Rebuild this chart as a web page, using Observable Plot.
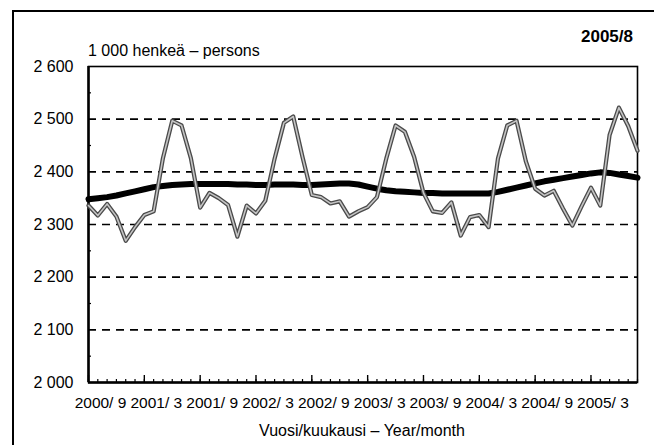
<!DOCTYPE html>
<html>
<head>
<meta charset="utf-8">
<script src="https://cdn.jsdelivr.net/npm/d3@7"></script>
<script src="https://cdn.jsdelivr.net/npm/@observablehq/plot@0.6"></script>
<style>
  html, body { margin: 0; padding: 0; background: #fff; }
  #wrap { position: relative; width: 654px; height: 445px; overflow: hidden; background: #fff;
          font-family: "Liberation Sans", Arial, sans-serif; color: #000; }
  #outer { position: absolute; left: 12px; top: 10px; width: 720px; height: 520px; border: 2px solid #000; }
  #chart { position: absolute; left: 0; top: 0; }
  .txt { position: absolute; white-space: nowrap; }
</style>
</head>
<body>
<div id="wrap">
  <div id="outer"></div>
  <div id="chart"></div>
  <div class="txt" id="unit" style="left:88px; top:43px; font-size:16px; line-height:16px;">1 000 henkeä – persons</div>
  <div class="txt" id="period" style="right:21px; top:28px; font-size:17px; line-height:17px; font-weight:bold;">2005/8</div>
  <div class="txt" id="xtitle" style="left:362px; top:423px; font-size:16px; line-height:16px; transform:translateX(-50%);">Vuosi/kuukausi – Year/month</div>
</div>
<script>
const months = [
  "2000/9","2000/10","2000/11","2000/12",
  "2001/1","2001/2","2001/3","2001/4","2001/5","2001/6","2001/7","2001/8","2001/9","2001/10","2001/11","2001/12",
  "2002/1","2002/2","2002/3","2002/4","2002/5","2002/6","2002/7","2002/8","2002/9","2002/10","2002/11","2002/12",
  "2003/1","2003/2","2003/3","2003/4","2003/5","2003/6","2003/7","2003/8","2003/9","2003/10","2003/11","2003/12",
  "2004/1","2004/2","2004/3","2004/4","2004/5","2004/6","2004/7","2004/8","2004/9","2004/10","2004/11","2004/12",
  "2005/1","2005/2","2005/3","2005/4","2005/5","2005/6","2005/7","2005/8"
];
const employed = [
  2336,2317,2339,2315,
  2269,2295,2318,2325,2426,2497,2488,2426,2332,2360,2350,2337,
  2277,2336,2321,2345,2425,2493,2505,2428,2356,2352,2340,2344,
  2315,2325,2333,2352,2425,2488,2476,2428,2360,2325,2322,2342,
  2279,2314,2318,2295,2425,2488,2497,2420,2368,2355,2364,2330,
  2298,2335,2370,2336,2470,2522,2487,2440
];
const trend = [
  2348,2350,2352,2355,
  2359,2363,2367,2371,2373,2375,2376,2377,2377,2377,2377,2377,
  2376,2376,2375,2375,2376,2376,2376,2375,2375,2376,2377,2378,
  2378,2376,2372,2368,2365,2363,2362,2361,2360,2360,2359,2359,
  2359,2359,2359,2359,2362,2366,2370,2374,2378,2382,2385,2388,
  2391,2394,2397,2399,2398,2395,2392,2389
];
const tickMonths = ["2000/9","2001/3","2001/9","2002/3","2002/9","2003/3","2003/9","2004/3","2004/9","2005/3"];
const tickLabels = ["2000/ 9","2001/ 3","2001/ 9","2002/ 3","2002/ 9","2003/ 3","2003/ 9","2004/ 3","2004/ 9","2005/ 3"];
const yTicks = [2000, 2100, 2200, 2300, 2400, 2500, 2600];
const gridValues = [2100, 2200, 2300, 2400, 2500];
const yMinor = [2050, 2150, 2250, 2350, 2450, 2550];

const rows = months.map((m, i) => ({idx: i, month: m, employed: employed[i], trend: trend[i]}));
const monthIdx = months.map((m, i) => i);
const tickIdx = tickMonths.map(m => months.indexOf(m));
const labelOf = new Map(tickIdx.map((k, i) => [k, tickLabels[i]]));
const fmt = d => d3.format(",")(d).replace(",", " ");

const W = 654, H = 445;
const mTop = 66, mBottom = 63, mLeft = 88, mRight = 17;
const frameH = H - mTop - mBottom, frameW = W - mLeft - mRight;

const chart = Plot.plot({
  width: W, height: H,
  marginTop: mTop, marginBottom: mBottom, marginLeft: mLeft, marginRight: mRight,
  style: {fontFamily: "'Liberation Sans', Arial, sans-serif", fontSize: "16px", color: "#000", background: "transparent", overflow: "visible"},
  x: {type: "linear", domain: [0, months.length - 1]},
  y: {domain: [2000, 2600]},
  marks: [
    Plot.ruleY(gridValues, {y: d => d, stroke: "#000", strokeWidth: 1.6, strokeDasharray: "8,6"}),
    Plot.ruleY(yMinor, {y: d => d, stroke: "#000", strokeWidth: 1.2, insetRight: frameW - 3}),
    Plot.ruleX(monthIdx, {x: d => d, stroke: "#000", strokeWidth: 1.2, insetTop: frameH - 3}),
    Plot.ruleX(tickIdx, {x: d => d, stroke: "#000", strokeWidth: 1.4, insetTop: frameH - 7}),
    Plot.frame({stroke: "#000", strokeWidth: 1.6}),
    Plot.ruleY([2000], {stroke: "#000", strokeWidth: 2.5}),
    Plot.ruleX([0], {stroke: "#000", strokeWidth: 2.5}),
    Plot.line(rows, {x: "idx", y: "trend", stroke: "#000", strokeWidth: 6, strokeLinejoin: "round"}),
    Plot.line(rows, {x: "idx", y: "employed", stroke: "#4a4a4a", strokeWidth: 4.2, strokeLinejoin: "round"}),
    Plot.line(rows, {x: "idx", y: "employed", stroke: "#c4c4c4", strokeWidth: 1.6, strokeLinejoin: "round"}),
    Plot.axisY({ticks: yTicks, tickSize: 0, tickPadding: 15, tickFormat: fmt, label: null}),
    Plot.axisX({ticks: tickIdx, tickSize: 0, tickPadding: 14, dx: 12, tickFormat: d => labelOf.get(d), label: null,
                fontSize: 15.5})
  ]
});
document.getElementById("chart").appendChild(chart);
</script>
</body>
</html>
